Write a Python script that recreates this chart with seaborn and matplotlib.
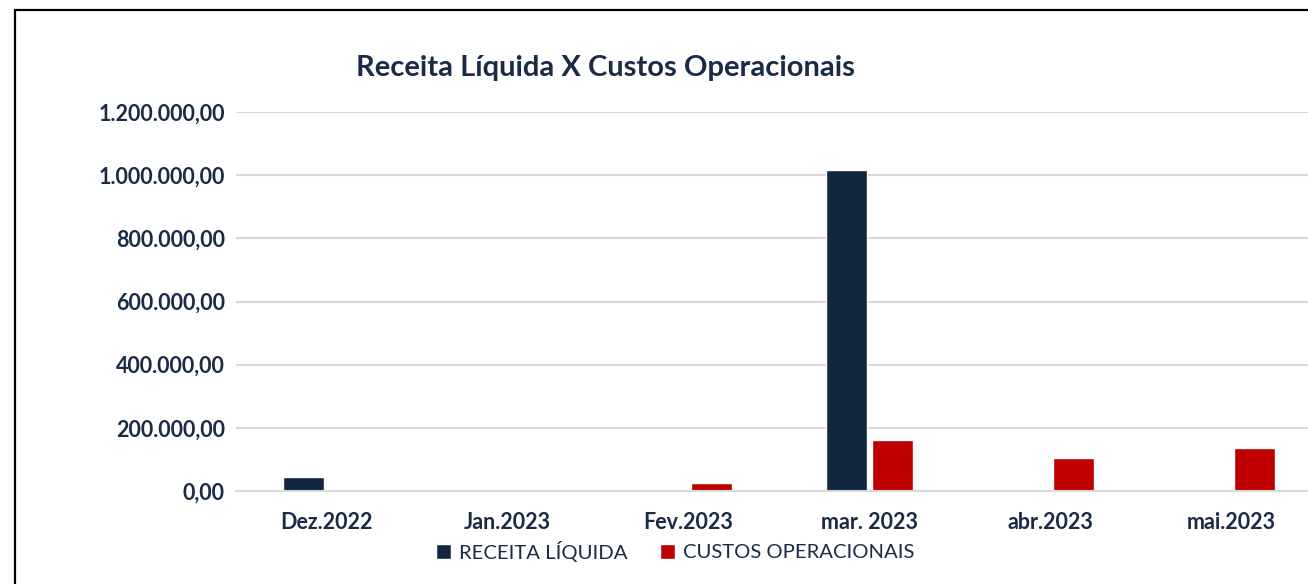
import matplotlib
matplotlib.use("Agg")
import matplotlib.pyplot as plt
import seaborn as sns
import pandas as pd
from matplotlib.lines import Line2D
from matplotlib.ticker import FuncFormatter

categories = ["Dez.2022", "Jan.2023", "Fev.2023", "mar. 2023", "abr.2023", "mai.2023"]
receita = [44000, 0, 0, 1015000, 0, 0]
custos = [4000, 4000, 25000, 161000, 104000, 136000]
series_names = ["RECEITA LÍQUIDA", "CUSTOS OPERACIONAIS"]
colors = ["#12263F", "#C00000"]
yticks = [0, 200000, 400000, 600000, 800000, 1000000, 1200000]

df = pd.DataFrame({
    "mes": categories * 2,
    "serie": [series_names[0]] * len(categories) + [series_names[1]] * len(categories),
    "valor": receita + custos,
})

sns.set_theme(style="white")
plt.rcParams["font.family"] = ["Lato", "DejaVu Sans"]

text_color = "#1B2A45"
fig = plt.figure(figsize=(13.08, 5.84), dpi=100)
ax = fig.add_axes([236 / 1308, (584 - 491) / 584, (6 * 181) / 1308, (491 - 112) / 584])

sns.barplot(data=df, x="mes", y="valor", hue="serie", order=categories,
            hue_order=series_names, palette=colors, width=0.506, gap=0.115,
            saturation=1, ax=ax, legend=True)

ax.set_ylim(0, 1200000)
ax.set_xlim(-0.5, len(categories) - 0.5)
ax.set_yticks(yticks)

def fmt(v, pos):
    s = f"{v:,.2f}"
    return s.replace(",", "X").replace(".", ",").replace("X", ".")

ax.yaxis.set_major_formatter(FuncFormatter(fmt))
ax.grid(axis="y", color="#D9D9D9", linewidth=1.5)
ax.set_axisbelow(True)
for side in ["top", "right", "left"]:
    ax.spines[side].set_visible(False)
ax.spines["bottom"].set_color("#D9D9D9")
ax.spines["bottom"].set_linewidth(1.5)
ax.set_xlabel("")
ax.set_ylabel("")
ax.tick_params(axis="both", length=0)
ax.tick_params(axis="y", pad=8)
ax.tick_params(axis="x", pad=15)
for lab in ax.get_yticklabels() + ax.get_xticklabels():
    lab.set_fontweight("bold")
    lab.set_fontsize(15.5)
    lab.set_color(text_color)

leg = ax.legend(loc="center", bbox_to_anchor=(675 / 1308, 1 - 551 / 584),
                bbox_transform=fig.transFigure, ncol=2, frameon=False,
                fontsize=14.6, handlelength=0.75, handleheight=0.75,
                handletextpad=0.4, columnspacing=1.6)
for t in leg.get_texts():
    t.set_color(text_color)

fig.text(605 / 1308, 1 - 68 / 584, "Receita Líquida X Custos Operacionais",
         ha="center", va="center", fontsize=21, fontweight="bold", color=text_color)

fig.add_artist(Line2D([15 / 1308, 15 / 1308], [0, 1 - 10 / 584], transform=fig.transFigure,
                      color="black", linewidth=1.6))
fig.add_artist(Line2D([15 / 1308, 1], [1 - 10 / 584, 1 - 10 / 584], transform=fig.transFigure,
                      color="black", linewidth=1.6))

fig.savefig("out.png", dpi=100)
